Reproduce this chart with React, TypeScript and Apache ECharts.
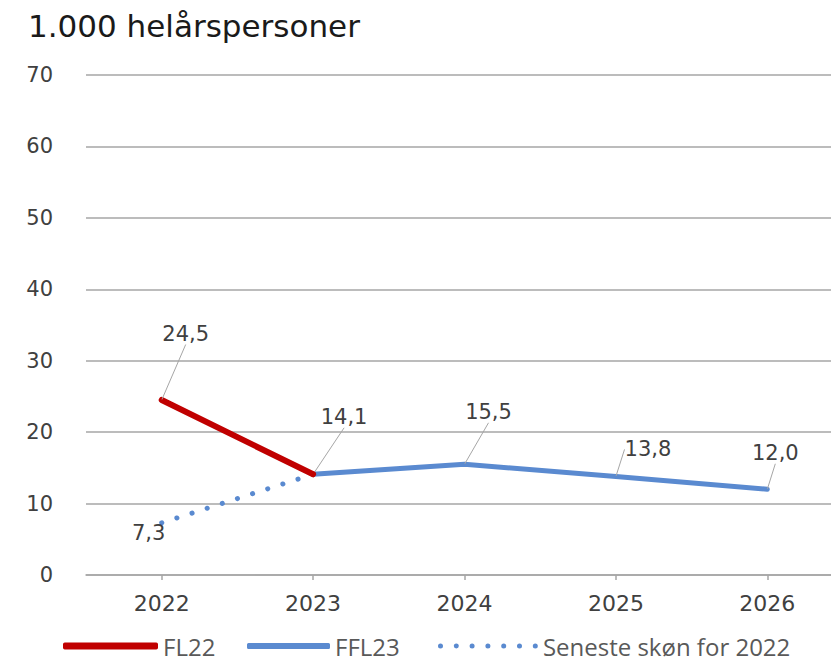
import React, { useEffect, useRef } from "react";
import * as echarts from "echarts";

// ---- data ----
const years = ["2022", "2023", "2024", "2025", "2026"];
const fl22 = [24.5, 14.1, null, null, null];
const ffl23 = [null, 14.1, 15.5, 13.8, 12.0];
const seneste = [7.3, 14.1, null, null, null];
const yMin = 0;
const yMax = 70;
const yStep = 10;
const titleText = "1.000 helårspersoner";
const seriesNames = ["FL22", "FFL23", "Seneste skøn for 2022"];

// ---- label layout (style, not data) ----
const fl22Shift: (number[] | null)[] = [[24, -50], null, null, null, null];
const ffl23Shift: (number[] | null)[] = [null, [31, -41], [24, -36], [32, -11], [8, -20]];
const senesteShift: (number[] | null)[] = [[-13, 26], null, null, null, null];

const RED = "#c00000";
const BLUE = "#5a8ad0";
const TXT = "#404040";
const GRID = "#a6a6a6";
const AXIS_FONT = "'DejaVu Sans', Verdana, sans-serif";
const LEG_FONT = "'Open Sans', 'Noto Sans', sans-serif";

const fmt = (v: number) => v.toFixed(1).replace(".", ",");

const dotsPath =
  "path://" +
  Array.from({ length: 7 }, (_, i) => {
    const cx = 2.5 + i * 15.8;
    return `M${cx - 2.5},2.5a2.5,2.5 0 1,0 5,0a2.5,2.5 0 1,0 -5,0Z`;
  }).join("");

function buildData(values: (number | null)[], shifts: (number[] | null)[]) {
  return values.map((v, i) =>
    v == null ? null : shifts[i] ? v : { value: v, label: { show: false }, labelLine: { show: false } }
  );
}

function layoutFrom(shifts: (number[] | null)[]) {
  return (params: any) => {
    const s = shifts[params.dataIndex];
    if (!s) return {};
    return { dx: s[0], dy: s[1] };
  };
}

const labelBase = {
  show: true,
  position: "top" as const,
  distance: 5,
  fontFamily: AXIS_FONT,
  fontSize: 21,
  color: TXT,
  formatter: (p: any) => fmt(p.value as number),
};

export default function App() {
  const ref = useRef<HTMLDivElement>(null);

  useEffect(() => {
    if (!ref.current) return;
    const chart = echarts.init(ref.current, null, { renderer: "svg" });

    const legendCommon = {
      top: 634,
      padding: 0,
      selectedMode: false,
      itemGap: 0,
      itemStyle: { borderWidth: 0 },
      textStyle: { fontFamily: LEG_FONT, fontSize: 24, color: "#595959", lineHeight: 22 },
    };

    chart.setOption({
      animation: false,
      backgroundColor: "#ffffff",
      title: {
        text: titleText,
        left: 28,
        top: 10,
        padding: 0,
        textStyle: { fontFamily: AXIS_FONT, fontSize: 31, fontWeight: "normal", color: "#1a1a1a" },
      },
      legend: [
        { ...legendCommon, data: [seriesNames[0]], left: 63, icon: "roundRect", itemWidth: 95, itemHeight: 7 },
        { ...legendCommon, data: [seriesNames[1]], left: 247, icon: "roundRect", itemWidth: 83, itemHeight: 6 },
        { ...legendCommon, data: [seriesNames[2]], left: 438, icon: dotsPath, itemWidth: 100, itemHeight: 5 },
      ],
      grid: { left: 86, top: 75, width: 757, height: 500, containLabel: false },
      xAxis: {
        type: "category",
        data: years,
        boundaryGap: true,
        axisLine: { show: true, lineStyle: { color: GRID, width: 1.5 } },
        axisTick: { show: true, alignWithLabel: true, length: 5, lineStyle: { color: GRID, width: 1.5 } },
        axisLabel: { fontFamily: AXIS_FONT, fontSize: 22, color: TXT, margin: 17 },
        splitLine: { show: false },
      },
      yAxis: {
        type: "value",
        min: yMin,
        max: yMax,
        interval: yStep,
        axisLine: { show: false },
        axisTick: { show: false },
        axisLabel: { fontFamily: AXIS_FONT, fontSize: 21, color: TXT, margin: 33 },
        splitLine: { show: true, lineStyle: { color: GRID, width: 1.5 } },
      },
      series: [
        {
          name: seriesNames[2],
          type: "line",
          data: buildData(seneste, senesteShift),
          symbol: "circle",
          symbolSize: 1,
          itemStyle: { color: BLUE },
          lineStyle: { color: BLUE, width: 5, type: [0.1, 15.8], cap: "round" },
          label: { ...labelBase },
          labelLine: { show: false },
          labelLayout: layoutFrom(senesteShift),
          z: 2,
        },
        {
          name: seriesNames[1],
          type: "line",
          data: buildData(ffl23, ffl23Shift),
          symbol: "circle",
          symbolSize: 1,
          itemStyle: { color: BLUE },
          lineStyle: { color: BLUE, width: 5, cap: "round" },
          label: { ...labelBase },
          labelLine: { show: true, lineStyle: { color: GRID, width: 1 } },
          labelLayout: layoutFrom(ffl23Shift),
          z: 3,
        },
        {
          name: seriesNames[0],
          type: "line",
          data: buildData(fl22, fl22Shift),
          symbol: "circle",
          symbolSize: 1,
          itemStyle: { color: RED },
          lineStyle: { color: RED, width: 6, cap: "round" },
          label: { ...labelBase },
          labelLine: { show: true, lineStyle: { color: GRID, width: 1 } },
          labelLayout: layoutFrom(fl22Shift),
          z: 4,
        },
      ],
    });

    return () => chart.dispose();
  }, []);

  return (
    <div
      style={{
        position: "absolute",
        left: 0,
        top: 0,
        width: 831,
        height: 661,
        overflow: "hidden",
        background: "#fff",
      }}
    >
      <div ref={ref} style={{ width: 860, height: 661 }} />
    </div>
  );
}
